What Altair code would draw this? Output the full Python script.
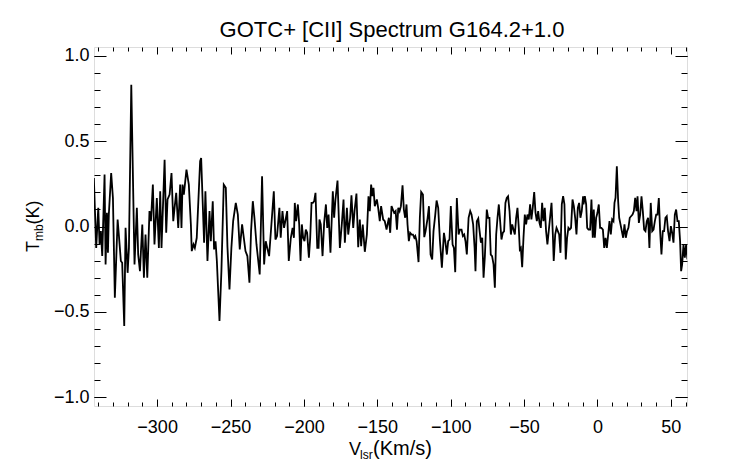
import altair as alt
import pandas as pd

FONT = "Liberation Sans"

# ---- spectrum data, in segments ----
vel_a = [-343.1, -341.5, -340.1, -339.2, -338.3, -337.4, -335.8, -335.1, -334.2, -333.5,
         -332.9, -331.3, -330.1, -328.8, -326.9, -326.0, -324.7, -323.8, -322.4, -321.5,
         -320.1, -319.2, -317.6, -315.4, -313.8, -312.9, -311.7, -310.1, -309.0, -307.9,
         -306.7, -305.2, -304.2, -302.9, -301.8, -300.2, -298.8, -297.9, -297.0, -294.9,
         -293.8, -292.9, -291.5, -290.2, -289.0, -288.1, -287.0, -285.6, -284.3, -283.4,
         -282.7, -281.8, -280.0, -278.4, -277.0]
tmb_a = [0.284, -0.125, 0.109, -0.105, -0.027, -0.173, 0.304, -0.222, 0.080, -0.154,
         0.070, 0.313, 0.167, -0.417, 0.041, -0.056, -0.202, -0.212, -0.582, -0.008,
         -0.271, -0.125, 0.829, -0.222, 0.109, -0.164, -0.261, 0.012, -0.300, -0.047,
         -0.300, 0.090, 0.031, 0.245, -0.105, 0.167, -0.125, 0.206, -0.125, 0.391,
         -0.037, 0.158, 0.187, 0.313, 0.031, 0.109, 0.197, -0.008, 0.245, -0.008,
         0.245, 0.187, 0.333, 0.245, 0.012]

vel_b = [-276.4, -275.2, -274.3, -273.0, -270.7, -270.0, -268.0, -267.1, -265.7, -264.3,
         -263.4, -262.1, -261.2, -260.2, -259.3, -258.4, -257.5, -256.2, -254.6, -253.2,
         -252.1, -250.7, -249.4, -248.2, -246.4, -245.0, -243.7, -242.1, -239.8, -238.5,
         -237.1, -236.0, -234.8, -233.7, -232.3, -230.1, -228.5, -227.1, -226.0, -223.7,
         -220.5, -219.4, -218.3, -216.7, -215.8, -214.6, -213.5, -211.4, -210.3]
tmb_b = [-0.144, -0.105, -0.125, -0.066, 0.382, 0.401, -0.095, 0.206, -0.202, 0.090,
         -0.086, 0.148, -0.134, -0.086, -0.202, -0.378, -0.553, -0.261, 0.245, 0.226,
         -0.115, -0.368, -0.125, 0.031, 0.138, 0.070, -0.134, 0.012, -0.144, -0.173,
         -0.329, -0.027, 0.148, 0.051, -0.105, -0.280, 0.294, -0.222, -0.086, -0.173,
         0.206, -0.076, -0.056, 0.109, -0.066, 0.090, -0.008, 0.090, -0.202]

vel_c = [-208.9, -207.7, -206.8, -206.2, -205.3, -204.1, -203.2, -202.3, -201.4, -200.5,
         -199.6, -198.7, -197.8, -196.6, -195.7, -194.8, -193.9, -193.0, -192.1, -190.9,
         -190.0, -189.4, -188.5, -187.3, -186.2, -185.0, -184.1, -183.2, -181.9, -180.3,
         -179.4, -178.5, -177.1, -175.5, -174.1, -173.0, -172.1, -170.7, -169.8, -168.5,
         -167.6, -166.4, -165.5, -164.2, -163.0, -161.9, -161.0, -159.9, -158.5, -157.1,
         -156.0, -155.1, -154.2, -153.3, -152.6, -151.7, -150.3, -149.4, -148.3, -147.4,
         -146.0, -144.9, -143.7]
tmb_c = [-0.066, -0.008, -0.066, 0.138, 0.031, 0.129, 0.012, -0.202, 0.012, -0.066,
         -0.086, -0.018, -0.037, -0.183, -0.066, 0.138, 0.138, 0.148, 0.197, -0.125,
         -0.125, 0.041, 0.012, -0.173, 0.021, 0.129, -0.008, 0.070, -0.154, 0.206,
         0.051, 0.158, 0.269, -0.125, 0.021, 0.158, -0.095, 0.109, -0.047, 0.051,
         0.183, -0.008, 0.090, 0.193, -0.121, 0.041, -0.115, 0.012, -0.148, -0.047,
         0.177, 0.090, 0.245, 0.177, 0.226, 0.119, 0.158, 0.109, 0.031, 0.119,
         0.041, 0.031, -0.018]

vel_d = [-142.1, -141.2, -140.3, -139.4, -138.5, -137.5, -136.6, -135.7, -134.8, -133.9,
         -132.8, -131.9, -131.0, -130.1, -129.4, -128.5, -127.6, -126.6, -125.7, -124.8,
         -124.1, -123.2, -121.9, -121.0, -120.1, -118.9, -118.0, -117.1, -115.7, -114.8,
         -113.7, -112.6, -111.7, -110.5, -109.6, -108.5, -107.3, -106.0, -104.6, -103.7,
         -102.6, -101.7, -100.8, -99.9, -98.7, -97.8, -96.9, -95.8, -94.6, -93.7,
         -92.6, -91.7, -90.8, -89.9, -89.0, -87.8, -86.7, -85.8, -84.7, -83.7,
         -83.1, -82.2, -81.2, -80.3, -79.4, -78.5, -77.6, -76.7]
tmb_d = [0.051, -0.037, 0.119, 0.099, 0.080, 0.090, -0.018, 0.109, 0.090, 0.119,
         0.241, 0.099, 0.051, 0.129, 0.012, -0.086, -0.037, -0.047, -0.047, -0.066,
         -0.056, -0.086, -0.208, 0.051, 0.202, 0.187, -0.062, -0.027, 0.051, 0.119,
         -0.164, -0.193, -0.027, 0.070, 0.152, 0.109, -0.086, -0.241, -0.037, -0.086,
         -0.164, -0.086, -0.076, 0.119, -0.105, -0.125, -0.267, 0.167, -0.047, -0.018,
         -0.018, -0.056, -0.047, -0.086, -0.164, 0.051, 0.090, 0.070, 0.012, -0.125,
         -0.261, 0.031, 0.047, -0.027, -0.095, -0.066, -0.300, -0.173]

vel_e = [-75.4, -74.5, -73.6, -72.7, -71.8, -70.8, -69.9, -69.0, -68.1, -67.2,
         -66.3, -65.4, -64.5, -63.6, -62.7, -61.8, -60.9, -59.9, -59.0, -58.1,
         -57.2, -56.3, -55.4, -54.5, -53.6, -52.9, -52.2, -51.3, -50.4, -49.5,
         -48.6, -47.7, -46.8, -45.9, -45.0, -44.1, -43.1, -42.2, -41.3, -40.4,
         -39.5, -38.6, -37.7, -36.8, -35.9, -35.0, -34.1, -33.2, -32.3, -31.3,
         -30.4, -29.8, -28.8, -27.9, -27.0, -26.1, -25.2, -24.3, -23.4, -22.5,
         -21.6, -20.7, -19.8, -18.9, -18.0, -17.0, -16.1, -15.2, -14.3, -13.4,
         -12.5, -11.6, -10.7, -9.8]
tmb_e = [0.099, 0.051, 0.051, -0.164, -0.173, -0.222, -0.358, -0.047, 0.051, 0.129,
         0.031, -0.076, -0.037, -0.027, 0.138, 0.167, 0.177, 0.090, -0.047, 0.012,
         -0.018, -0.047, 0.051, 0.109, -0.008, -0.134, -0.125, -0.238, -0.066, 0.070,
         0.012, 0.070, 0.041, 0.129, 0.041, 0.109, 0.202, 0.080, 0.031, 0.090,
         0.021, -0.008, 0.138, 0.031, 0.109, -0.027, -0.105, -0.027, 0.051, 0.138,
         -0.047, -0.202, -0.047, -0.008, -0.027, -0.047, -0.154, 0.129, 0.177, 0.129,
         -0.193, -0.066, -0.008, -0.018, -0.008, 0.158, 0.119, 0.051, -0.047, 0.109,
         0.138, 0.051, 0.090, 0.177]

vel_f = [-9.5, -8.6, -7.7, -7.0, -6.1, -5.0, -4.1, -3.2, -2.5, -1.8,
         -0.9, 0.0, 0.9, 1.8, 2.7, 3.7, 4.6, 5.5, 6.4, 7.3,
         8.2, 9.1, 10.0, 10.9, 11.6, 12.3, 13.2, 14.1, 14.8, 15.7,
         16.6, 17.5, 18.4, 19.3, 20.2, 21.1, 22.0, 22.9, 23.9, 24.8,
         25.7, 26.6, 27.3, 28.2, 29.1, 30.0, 30.9, 31.8, 32.7, 33.6,
         34.5, 35.4, 36.3, 37.3, 38.2, 39.1, 40.0, 40.9, 41.8, 42.7,
         43.6, 44.5, 45.4, 46.3, 47.2, 48.1, 49.1, 50.0, 50.9, 51.8,
         52.7, 53.6, 54.5, 55.4, 56.3, 57.0, 57.7, 58.6, 59.5, 60.4, 61.3]
tmb_f = [0.129, 0.177, 0.129, -0.008, -0.018, -0.018, 0.158, -0.066, 0.099, -0.066,
         0.051, 0.080, 0.129, -0.008, -0.008, -0.018, -0.125, -0.066, -0.125, -0.047,
         0.031, -0.047, 0.041, 0.031, 0.138, 0.167, 0.352, 0.148, 0.051, 0.012,
         -0.027, -0.066, 0.012, -0.066, -0.027, -0.008, 0.051, 0.060, 0.070, 0.090,
         0.167, 0.090, 0.177, 0.021, 0.070, 0.177, 0.090, -0.018, -0.027, 0.031,
         0.051, -0.125, 0.138, -0.027, -0.018, 0.031, 0.070, 0.070, 0.167, -0.027,
         -0.164, -0.027, -0.027, 0.051, 0.060, -0.027, -0.086, 0.002, -0.037, -0.095,
         0.070, 0.099, 0.031, 0.031, -0.086, -0.261, -0.222, -0.105, -0.183, -0.105, -0.193]

# ---- axis ticks ----
x_major = [-300, -250, -200, -150, -100, -50, 0, 50]
x_minor = [-340, -330, -320, -310, -300, -290, -280, -270, -260, -250, -240, -230, -220,
           -210, -200, -190, -180, -170, -160, -150, -140, -130, -120, -110, -100, -90,
           -80, -70, -60, -50, -40, -30, -20, -10, 0, 10, 20, 30, 40, 50, 60]
y_major = [-1.0, -0.5, 0.0, 0.5, 1.0]
y_minor = [-1.0, -0.9, -0.8, -0.7, -0.6, -0.5, -0.4, -0.3, -0.2, -0.1, 0.0,
           0.1, 0.2, 0.3, 0.4, 0.5, 0.6, 0.7, 0.8, 0.9, 1.0]
x_domain = [-343, 61]
y_domain = [-1.05, 1.05]

title_text = "GOTC+ [CII] Spectrum G164.2+1.0"

vel, tmb = [], []
for vs, ts in [(vel_a, tmb_a), (vel_b, tmb_b), (vel_c, tmb_c),
               (vel_d, tmb_d), (vel_e, tmb_e), (vel_f, tmb_f)]:
    n = min(len(vs), len(ts))
    vel += vs[:n]
    tmb += ts[:n]
df = pd.DataFrame({"v": vel, "t": tmb})

W, H = 593, 359
XS = alt.Scale(domain=x_domain, nice=False, zero=False)
YS = alt.Scale(domain=y_domain, nice=False, zero=False)


def tick_axis(orient, values, size):
    return alt.Axis(orient=orient, values=values, labels=False, ticks=True,
                    tickSize=size, offset=-size, domain=False, grid=False,
                    tickColor="black", tickWidth=1, title=None)


base = alt.Chart(df)

main = base.mark_line(color="black", strokeWidth=1.8, clip=True).encode(
    x=alt.X("v:Q", scale=XS, title=None,
            axis=alt.Axis(orient="bottom", values=x_major, format="d", ticks=False,
                          tickSize=0, domain=False, grid=False, labelFont=FONT,
                          labelFontSize=18, labelColor="black", labelPadding=12,
                          labelFlush=False, labelOverlap=False, title=None)),
    y=alt.Y("t:Q", scale=YS, title=None,
            axis=alt.Axis(orient="left", values=y_major, format=".1f", ticks=False,
                          tickSize=0, domain=False, grid=False, labelFont=FONT,
                          labelFontSize=18, labelColor="black", labelPadding=5,
                          labelFlush=False, labelOverlap=False, title=None)),
)


def tick_layer(xo, xv, xs, yo, yv, ys):
    return base.mark_line(opacity=0).encode(
        x=alt.X("v:Q", scale=XS, title=None, axis=tick_axis(xo, xv, xs)),
        y=alt.Y("t:Q", scale=YS, title=None, axis=tick_axis(yo, yv, ys)),
    )


t1 = tick_layer("bottom", x_major, 7, "left", y_major, 12)
t2 = tick_layer("bottom", x_minor, 4, "left", y_minor, 6)
t3 = tick_layer("top", x_major, 7, "right", y_major, 12)
t4 = tick_layer("top", x_minor, 4, "right", y_minor, 6)

one = alt.Data(values=[{"k": 1}])


def label(text, x, y, size, angle=0, align="left"):
    return alt.Chart(one).mark_text(
        text=text, font=FONT, fontSize=size, color="black", align=align,
        baseline="alphabetic", angle=angle
    ).encode(x=alt.value(x), y=alt.value(y))


# chart title
ttl = label(title_text, 298, -10, 22, 0, "center")
# y-axis title: T_mb(K), rotated
yt1 = label("T", -55.5, 205, 18, 270)
yt2 = label("mb", -51.5, 194, 12, 270)
yt3 = label("(K)", -55.5, 177.5, 18, 270)
# x-axis title: V_lsr(Km/s)
xt1 = label("V", 255, 408, 18)
xt2 = label("lsr", 266, 412, 12)
xt3 = label("(Km/s)", 279, 408, 20)

chart = alt.layer(main, t1, t2, t3, t4, ttl, yt1, yt2, yt3, xt1, xt2, xt3).resolve_axis(
    x="independent", y="independent"
).properties(
    width=W, height=H,
    autosize=alt.AutoSizeParams(type="none"),
    padding={"left": 86, "top": 39, "right": 40, "bottom": 55},
).configure_view(stroke="black", strokeWidth=1).configure(background="white")

chart.save("out.html", embed_options={"renderer": "svg", "actions": False})
